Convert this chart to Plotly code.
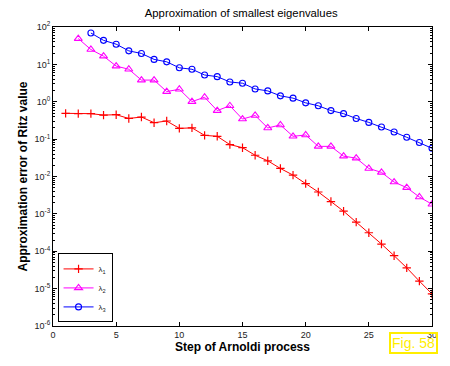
import plotly.graph_objects as go

steps1 = list(range(1, 31))
lam1 = [0.49, 0.48, 0.48, 0.44, 0.45, 0.357, 0.39, 0.275, 0.305, 0.194, 0.20, 0.126, 0.119,
        0.0714, 0.059, 0.037, 0.0263, 0.0164, 0.0109, 0.00644, 0.00385, 0.00214, 0.00118,
        6.0e-4, 3.13e-4, 1.56e-4, 7.6e-5, 3.6e-5, 1.59e-5, 7.2e-6]
steps2 = list(range(2, 31))
lam2 = [49, 25, 16.6, 9.0, 7.4, 3.8, 3.8, 1.87, 2.16, 1.01, 1.32, 0.58, 0.78, 0.344,
        0.43, 0.199, 0.239, 0.119, 0.129, 0.064, 0.064, 0.035, 0.031, 0.0164, 0.0129,
        0.0071, 0.00504, 0.00283, 0.00181]
steps3 = list(range(3, 31))
lam3 = [69, 44, 34.7, 23, 19.6, 13.6, 11.7, 8.1, 7.4, 5.2, 4.7, 3.38, 3.13, 2.2, 1.95,
        1.44, 1.25, 0.935, 0.78, 0.58, 0.48, 0.357, 0.28, 0.211, 0.155, 0.112, 0.081, 0.057]
names = ["λ<sub>1</sub>", "λ<sub>2</sub>", "λ<sub>3</sub>"]
xticks = [0, 5, 10, 15, 20, 25, 30]
yexps = list(range(-6, 3))
yticks = [10.0 ** e for e in yexps]
yticktext = [f"10<sup>{e}</sup>" for e in yexps]
yminor = [m * 10.0 ** e for e in range(-6, 2) for m in range(2, 10)]

FONT = "Liberation Sans, Arial, sans-serif"

fig = go.Figure()
fig.add_trace(go.Scatter(x=steps1, y=lam1, name=names[0], mode="lines+markers",
                         line=dict(color="#ff0000", width=1),
                         marker=dict(symbol="cross-thin-open", size=6,
                                     line=dict(color="#ff0000", width=1.2))))
fig.add_trace(go.Scatter(x=steps2, y=lam2, name=names[1], mode="lines+markers",
                         line=dict(color="#ff00ff", width=1),
                         marker=dict(symbol="triangle-up-open", size=7,
                                     line=dict(color="#ff00ff", width=1.1))))
fig.add_trace(go.Scatter(x=steps3, y=lam3, name=names[2], mode="lines+markers",
                         line=dict(color="#0000ff", width=1),
                         marker=dict(symbol="circle-open", size=6,
                                     line=dict(color="#0000ff", width=1.1))))

axis_common = dict(showline=True, linecolor="black", linewidth=1, mirror="ticks",
                   ticks="inside", tickcolor="black", showgrid=False, zeroline=False,
                   tickfont=dict(family=FONT, size=9, color="#222"))

fig.update_layout(
    width=450, height=366,
    margin=dict(l=53, r=18, t=27, b=40),
    paper_bgcolor="white", plot_bgcolor="white",
    title=dict(text="Approximation of smallest eigenvalues", x=0.536, xanchor="center",
               y=0.965, yanchor="middle",
               font=dict(family=FONT, size=11.3, color="black")),
    xaxis=dict(range=[0, 30], tickmode="array", tickvals=xticks, ticklen=4,
               title=dict(text="<b>Step of Arnoldi process</b>", standoff=1,
                          font=dict(family=FONT, size=12, color="black")),
               **axis_common),
    yaxis=dict(type="log", range=[-6, 2], tickmode="array", tickvals=yticks,
               ticktext=yticktext, ticklen=4,
               title=dict(text="<b>Approximation error of Ritz value</b>", standoff=4,
                          font=dict(family=FONT, size=12, color="black")),
               **axis_common),
    yaxis2=dict(type="log", range=[-6, 2], overlaying="y", tickmode="array",
                tickvals=yminor, showticklabels=False, ticks="inside", ticklen=2,
                tickcolor="black", showline=True, linecolor="black", linewidth=1,
                mirror="ticks", showgrid=False, zeroline=False),
    legend=dict(x=0.012, y=0.012, xanchor="left", yanchor="bottom",
                bgcolor="white", bordercolor="black", borderwidth=1,
                font=dict(family=FONT, size=8, color="#222"),
                tracegroupgap=0, itemwidth=30),
    showlegend=True,
)

# invisible anchor trace so the minor-tick axis is drawn
fig.add_trace(go.Scatter(x=[None], y=[None], yaxis="y2", showlegend=False,
                         hoverinfo="skip"))

fig.add_annotation(text="Fig. 58", xref="paper", yref="paper", x=0.95, y=-0.02,
                   xanchor="center", yanchor="top", showarrow=False,
                   font=dict(family=FONT, size=14, color="#ffee00"),
                   bordercolor="#ffee00", borderwidth=2, borderpad=1,
                   bgcolor="rgba(255,255,255,0)")

fig.write_html("out.html")
